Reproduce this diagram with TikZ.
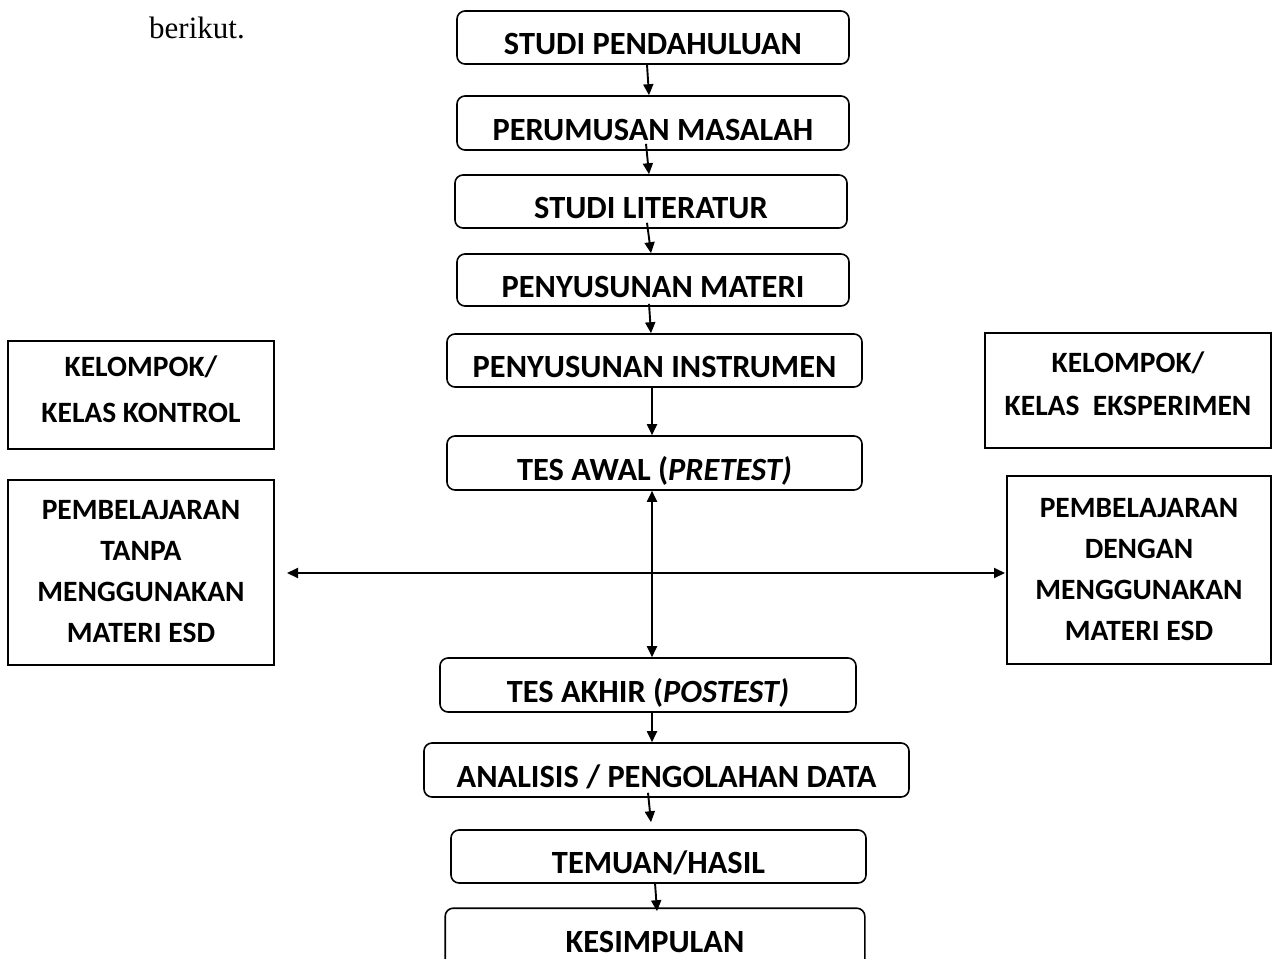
\documentclass[tikz,border=0pt]{standalone}
\usepackage{fontspec}
\newfontfamily\calfont{Carlito}
\newfontfamily\timesfont{Liberation Serif}
\usetikzlibrary{arrows.meta}
\tikzset{
  boxline/.style={line width=1.6pt},
  cbox/.style={draw, boxline, rounded corners=8pt, inner sep=0pt,
    font=\calfont\bfseries\fontsize{32.4}{38}\selectfont, text height=34pt, text depth=0pt},
  sbox/.style={draw, boxline, inner sep=0pt},
  stext/.style={inner sep=0pt, align=center, font=\calfont\bfseries\fontsize{29.5}{#1}\selectfont},
  arr/.style={line width=1.9pt, -{Triangle[length=11pt,width=10pt]}},
  darr/.style={line width=1.9pt, {Triangle[length=11pt,width=10pt]}-{Triangle[length=11pt,width=10pt]}}
}
\begin{document}
\begin{tikzpicture}[x=1pt,y=-1pt]
\clip (0,0) rectangle (1273,958);
\fill[white] (0,0) rectangle (1273,958);
\node[anchor=base west, inner sep=0pt, font=\timesfont\fontsize{31}{36}\selectfont] (ber) at (149,39) {berikut.};
% centre column
\node[cbox, minimum width=392pt, minimum height=53pt] (s1) at (653,37.5) {STUDI PENDAHULUAN};
\node[cbox, minimum width=392pt, minimum height=54pt] (s2) at (653,123) {PERUMUSAN MASALAH};
\node[cbox, minimum width=392pt, minimum height=53pt] (s3) at (651,201.5) {STUDI LITERATUR};
\node[cbox, minimum width=392pt, minimum height=52pt] (s4) at (653,280) {PENYUSUNAN MATERI};
\node[cbox, minimum width=415pt, minimum height=53pt] (s5) at (654.5,360.5) {PENYUSUNAN INSTRUMEN};
\node[cbox, minimum width=415pt, minimum height=54pt] (s6) at (654.5,463) {TES AWAL (\textit{PRETEST)}};
\node[cbox, minimum width=416pt, minimum height=54pt] (s7) at (648,685) {TES AKHIR (\textit{POSTEST)}};
\node[cbox, minimum width=485pt, minimum height=54pt] (s8) at (666.5,770) {ANALISIS / PENGOLAHAN DATA};
\node[cbox, minimum width=415pt, minimum height=53pt] (s9) at (658.5,856.5) {TEMUAN/HASIL};
% last box runs off the bottom edge
\node[cbox, draw=none, minimum width=418pt, minimum height=45pt, text height=41pt] (s10) at (655,931.5) {KESIMPULAN};
\draw[boxline, rounded corners=8pt] ([yshift=-14pt]s10.south west) -- (s10.north west) -- (s10.north east) -- ([yshift=-14pt]s10.south east);
% side boxes
\node[sbox, minimum width=266pt, minimum height=108pt] (kk) at (141,395) {};
\node[stext=46] (kkt) at ([yshift=5.5pt]kk.center) {KELOMPOK/\\KELAS KONTROL};
\node[sbox, minimum width=266pt, minimum height=185pt] (pt) at (141,572.5) {};
\node[stext=41] (ptt) at ([yshift=1pt]pt.center) {PEMBELAJARAN\\TANPA\\MENGGUNAKAN\\MATERI ESD};
\node[sbox, minimum width=286pt, minimum height=115pt] (ke) at (1128,390.5) {};
\node[stext=43] (ket) at ([yshift=7pt]ke.center) {KELOMPOK/\\KELAS\ \ EKSPERIMEN};
\node[sbox, minimum width=264pt, minimum height=188pt] (pd) at (1139,570) {};
\node[stext=41] (pdt) at (pd.center) {PEMBELAJARAN\\DENGAN\\MENGGUNAKAN\\MATERI ESD};
% arrows
\draw[arr] ([xshift=-6pt]s1.south) -- ([xshift=-4pt]s2.north);
\draw[arr] ([xshift=-7pt,yshift=7pt]s2.south) -- ([xshift=-2pt]s3.north);
\draw[arr] ([xshift=-4pt,yshift=6pt]s3.south) -- ([xshift=-2pt]s4.north);
\draw[arr] ([xshift=-4pt,yshift=3pt]s4.south) -- ([xshift=-3.5pt]s5.north);
\draw[arr] ([xshift=-2.5pt]s5.south) -- ([xshift=-2.5pt]s6.north);
\draw[darr] ([xshift=-2.5pt]s6.south) -- ([xshift=4pt]s7.north);
\draw[arr] ([xshift=4pt]s7.south) -- ([xshift=-14.5pt]s8.north);
\draw[arr] ([xshift=-18.5pt,yshift=5pt]s8.south) -- ([xshift=-7.5pt,yshift=7pt]s9.north);
\draw[arr] ([xshift=-3.5pt,yshift=1pt]s9.south) -- ([xshift=2pt,yshift=-3pt]s10.north);
\coordinate (hl) at (287,573);
\coordinate (hr) at (1005,573);
\draw[darr] (hl) -- (hr);
\end{tikzpicture}
\end{document}
